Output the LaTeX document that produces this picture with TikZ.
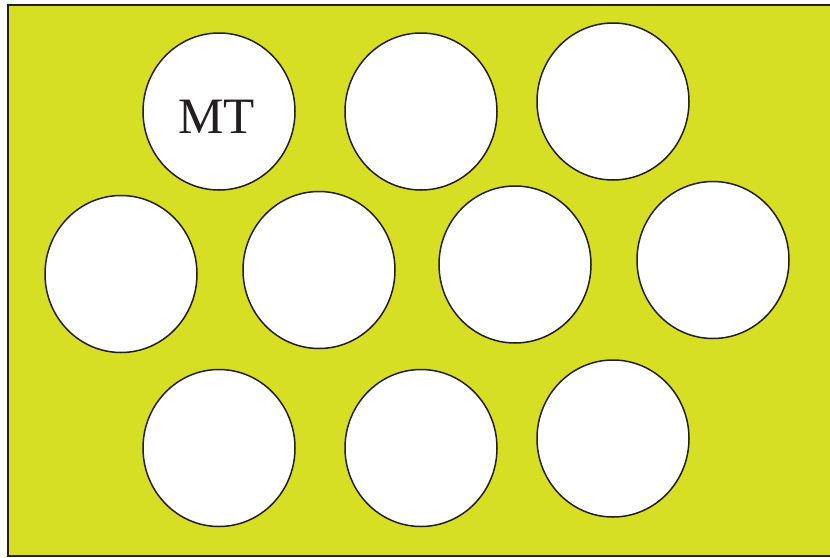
\documentclass[tikz,border=0pt]{standalone}
\usepackage{fontspec}
\setmainfont{Liberation Serif}
\usetikzlibrary{shapes.geometric}
\definecolor{bgyellow}{RGB}{214,223,35}
\definecolor{inkdark}{RGB}{35,31,32}
\tikzset{
  hole/.style={ellipse, draw=inkdark, line width=1.5pt, fill=white, minimum width=152pt, minimum height=157pt, inner sep=0pt},
  plate/.style={draw=inkdark, line width=2pt, fill=bgyellow}
}
\begin{document}
\begin{tikzpicture}[x=1pt,y=-1pt]
\useasboundingbox (0,0) rectangle (830,557);
\fill[white] (0,0) rectangle (830,557);
\draw[plate] (8,5) rectangle (832,556);
\node[hole] (c1) at (219,111.5) {};
\node[hole] (c2) at (421,111.5) {};
\node[hole] (c3) at (613,101.5) {};
\node[hole] (c4) at (121,274) {};
\node[hole] (c5) at (319,270) {};
\node[hole] (c6) at (515,264.5) {};
\node[hole] (c7) at (713,260) {};
\node[hole] (c8) at (219,448) {};
\node[hole] (c9) at (421,448) {};
\node[hole] (c10) at (613,438.5) {};
\node[anchor=base, inner sep=0pt, text=inkdark, font=\fontsize{51}{51}\selectfont] (mt) at (216.5,133.5) {MT};
\end{tikzpicture}
\end{document}
